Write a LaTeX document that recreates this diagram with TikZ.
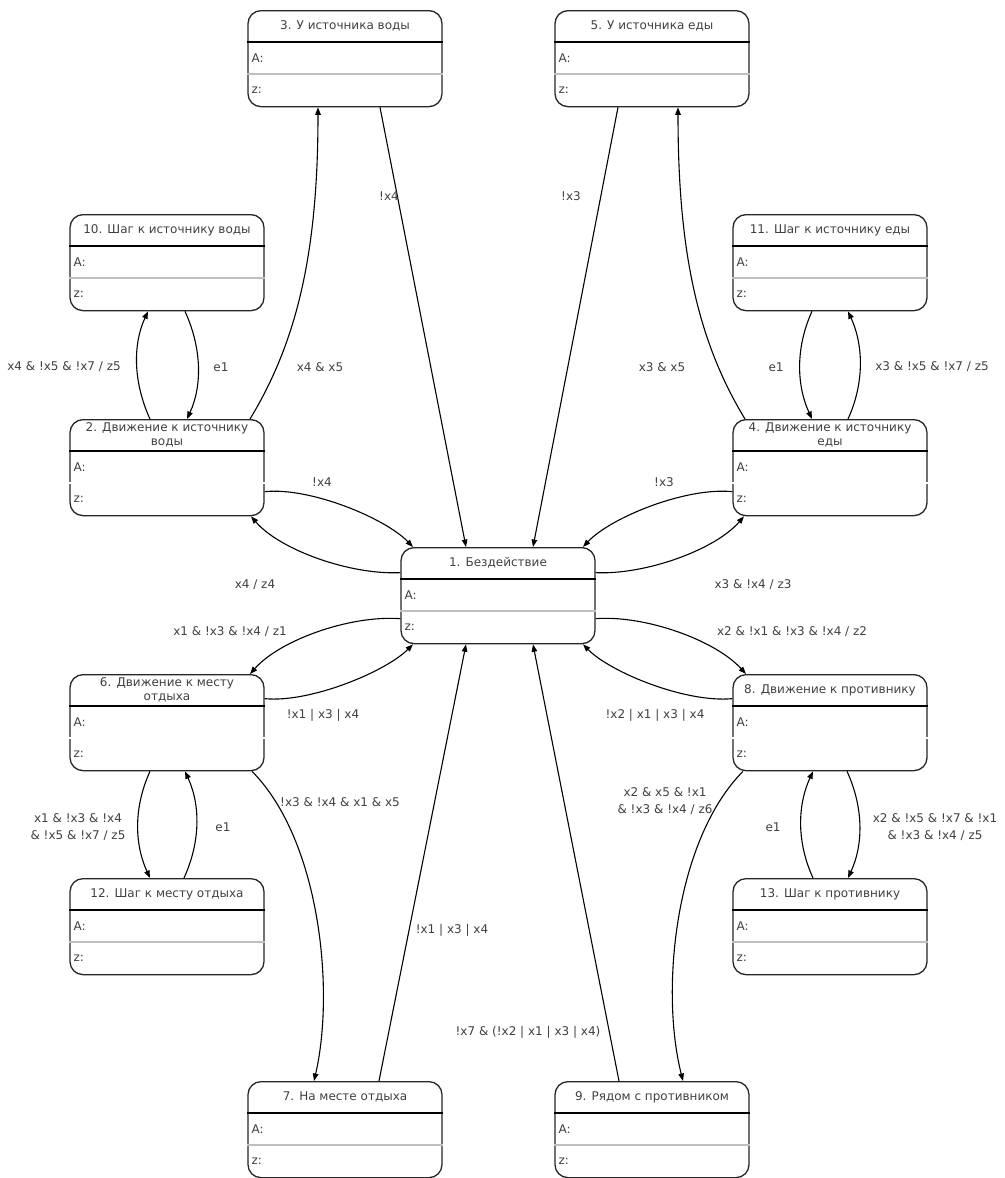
\documentclass[tikz,border=0pt]{standalone}
\usepackage{fontspec}
\setmainfont{DejaVu Sans}
\usetikzlibrary{arrows.meta,calc}
\tikzset{
  stateframe/.style={draw=black!85, line width=1.3pt, rounded corners=13pt, minimum width=194pt, minimum height=96pt, inner sep=0pt, anchor=north, fill=white},
  ttl/.style={font=\fontsize{12}{14.5}\selectfont, text=black!75, align=center, inner sep=0pt},
  fld/.style={font=\fontsize{12}{14}\selectfont, text=black!75, anchor=west, inner sep=0pt},
  lbl/.style={font=\fontsize{12}{17}\selectfont, text=black!75, align=center, inner sep=1pt},
  arr/.style={draw=black, line width=1.1pt, -{Triangle[length=7.5pt,width=5.5pt]}}
}
% name, cx, top, title ; optional: separator colour
\newcommand\stbox[5][black!25]{%
  \node[stateframe] (#2) at (#3,#4) {};
  \draw[black, line width=1.3pt] ($(#2.north west)+(0,32)$) -- ($(#2.north east)+(0,32)$);
  \draw[#1, line width=1.8pt] ($(#2.north west)+(0,64)$) -- ($(#2.north east)+(0,64)$);
  \node[ttl] (#2-t) at ($(#2.north)+(0,16)$) {#5};
  \node[fld] (#2-a) at ($(#2.north west)+(4,48)$) {A:};
  \node[fld] (#2-z) at ($(#2.north west)+(4,80)$) {z:};
}
\begin{document}
\begin{tikzpicture}[x=1pt,y=-1pt]
\useasboundingbox (0,0) rectangle (1004,1178);
\fill[white] (0,0) rectangle (1004,1178);

\stbox{b3}{345}{10}{3. У источника воды}
\stbox{b5}{652}{10}{5. У источника еды}
\stbox{b10}{167}{214}{10. Шаг к источнику воды}
\stbox{b11}{830}{214}{11. Шаг к источнику еды}
\stbox[white]{b2}{167}{419}{2. Движение к источнику\\воды}
\stbox[white]{b4}{830}{419}{4. Движение к источнику\\еды}
\stbox{b1}{498}{547}{1. Бездействие}
\stbox[white]{b6}{167}{674}{6. Движение к месту\\отдыха}
\stbox[white]{b8}{830}{674}{8. Движение к противнику}
\stbox{b12}{167}{878}{12. Шаг к месту отдыха}
\stbox{b13}{830}{878}{13. Шаг к противнику}
\stbox{b7}{345}{1081}{7. На месте отдыха}
\stbox{b9}{652}{1081}{9. Рядом с противником}

% top verticals
\draw[arr] ([xshift=35pt]b3.south) -- ([xshift=-32pt]b1.north);
\draw[arr] ([xshift=-34pt]b5.south) -- ([xshift=35pt]b1.north);
% 2->3, 4->5
\draw[arr] ([xshift=83pt]b2.north) .. controls (298,340) and (318,250) .. ([xshift=-27pt]b3.south);
\draw[arr] ([xshift=-85pt]b4.north) .. controls (697,340) and (678,250) .. ([xshift=26pt]b5.south);
% 10 <-> 2
\draw[arr] ([xshift=18pt]b10.south) .. controls +(16,35) and +(16,-35) .. ([xshift=20pt]b2.north);
\draw[arr] ([xshift=-17pt]b2.north) .. controls +(-16,-35) and +(-16,35) .. ([xshift=-19pt]b10.south);
% 11 <-> 4
\draw[arr] ([xshift=-18pt]b11.south) .. controls +(-16,35) and +(-16,-35) .. ([xshift=-18pt]b4.north);
\draw[arr] ([xshift=18pt]b4.north) .. controls +(16,-35) and +(16,35) .. ([xshift=18pt]b11.south);
% 6 <-> 12
\draw[arr] ([xshift=-17pt]b6.south) .. controls +(-16,35) and +(-16,-35) .. ([xshift=-17pt]b12.north);
\draw[arr] ([xshift=17pt]b12.north) .. controls +(16,-35) and +(16,35) .. ([xshift=18pt]b6.south);
% 13 <-> 8
\draw[arr] ([xshift=-17pt]b13.north) .. controls +(-16,-35) and +(-16,35) .. ([xshift=-17pt]b8.south);
\draw[arr] ([xshift=17pt]b8.south) .. controls +(16,35) and +(16,-35) .. ([xshift=18pt]b13.north);
% middle
\draw[arr] ([yshift=-24pt]b2.east) .. controls (310,487) and (385,518) .. ([xshift=-85pt]b1.north);
\draw[arr] ([yshift=23pt]b1.west) .. controls (350,575) and (280,550) .. ([xshift=84pt]b2.south);
\draw[arr] ([yshift=-24pt]b4.west) .. controls (685,487) and (610,518) .. ([xshift=85pt]b1.north);
\draw[arr] ([yshift=23pt]b1.east) .. controls (645,575) and (715,550) .. ([xshift=-86pt]b4.south);
\draw[arr] ([yshift=-23pt]b1.west) .. controls (350,615) and (280,640) .. ([xshift=83pt]b6.north);
\draw[arr] ([yshift=24pt]b6.east) .. controls (310,703) and (385,672) .. ([xshift=-85pt]b1.south);
\draw[arr] ([yshift=-23pt]b1.east) .. controls (645,615) and (715,640) .. ([xshift=-84pt]b8.north);
\draw[arr] ([yshift=24pt]b8.west) .. controls (685,703) and (610,672) .. ([xshift=85pt]b1.south);
% bottom
\draw[arr] ([xshift=85pt]b6.south) .. controls (320,840) and (335,990) .. ([xshift=-31pt]b7.north);
\draw[arr] ([xshift=34pt]b7.north) -- ([xshift=-32pt]b1.south);
\draw[arr] ([xshift=-33pt]b9.north) -- ([xshift=35pt]b1.south);
\draw[arr] ([xshift=-87pt]b8.south) .. controls (675,840) and (660,990) .. ([xshift=31pt]b9.north);

% labels
\node[lbl] (l1) at (389,196) {!x4};
\node[lbl] (l2) at (571,196) {!x3};
\node[lbl] (l3) at (320,367) {x4 \& x5};
\node[lbl] (l4) at (662,367) {x3 \& x5};
\node[lbl] (l5) at (64,367) {x4 \& !x5 \& !x7 / z5};
\node[lbl] (l6) at (221,367) {e1};
\node[lbl] (l7) at (776,367) {e1};
\node[lbl] (l8) at (932,367) {x3 \& !x5 \& !x7 / z5};
\node[lbl] (l9) at (322,482) {!x4};
\node[lbl] (l10) at (664,482) {!x3};
\node[lbl] (l11) at (255,585) {x4 / z4};
\node[lbl] (l12) at (753,585) {x3 \& !x4 / z3};
\node[lbl] (l13) at (230,632) {x1 \& !x3 \& !x4 / z1};
\node[lbl] (l14) at (792,632) {x2 \& !x1 \& !x3 \& !x4 / z2};
\node[lbl] (l15) at (323,715) {!x1 | x3 | x4};
\node[lbl] (l16) at (655,715) {!x2 | x1 | x3 | x4};
\node[lbl] (l17) at (340,802) {!x3 \& !x4 \& x1 \& x5};
\node[lbl] (l18) at (665,801) {x2 \& x5 \& !x1\\\& !x3 \& !x4 / z6};
\node[lbl] (l19) at (78,827) {x1 \& !x3 \& !x4\\\& !x5 \& !x7 / z5};
\node[lbl] (l20) at (223,827) {e1};
\node[lbl] (l21) at (773,827) {e1};
\node[lbl] (l22) at (935,827) {x2 \& !x5 \& !x7 \& !x1\\\& !x3 \& !x4 / z5};
\node[lbl] (l23) at (452,930) {!x1 | x3 | x4};
\node[lbl] (l24) at (528,1032) {!x7 \& (!x2 | x1 | x3 | x4)};
\end{tikzpicture}
\end{document}
